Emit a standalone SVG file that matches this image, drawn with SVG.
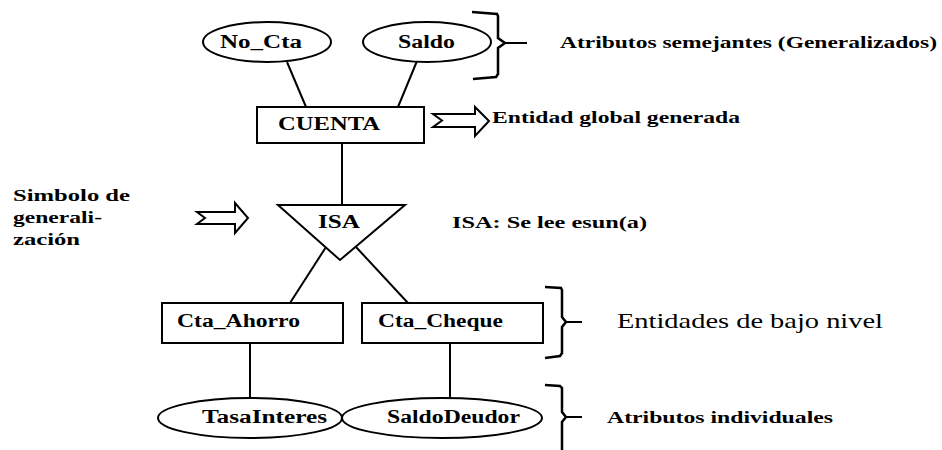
<svg xmlns="http://www.w3.org/2000/svg" width="942" height="450" viewBox="0 0 942 450">
<style>
  .bg{fill:#fff}
  .shape{fill:#fff;stroke:#000;stroke-width:2}
  .line{stroke:#000;stroke-width:2;fill:none}
  .brace{stroke:#000;stroke-width:2.5;fill:none;stroke-linejoin:miter}
  .arrow{fill:#fff;stroke:#000;stroke-width:2;stroke-linejoin:miter}
  text{font-family:"Liberation Serif","DejaVu Serif",serif;font-weight:bold;fill:#000}
  .n{font-size:18px}
  .lbl{font-size:16px}
  .big{font-size:21px;font-weight:normal}
</style>
<rect class="bg" x="0" y="0" width="942" height="450"/>
<g id="connectors">
  <line class="line" x1="287" y1="62" x2="306" y2="107"/>
  <line class="line" x1="417" y1="61" x2="398" y2="107"/>
  <line class="line" x1="342" y1="143" x2="342" y2="205"/>
  <line class="line" x1="326" y1="247" x2="290" y2="303"/>
  <line class="line" x1="356" y1="247" x2="408" y2="303"/>
  <line class="line" x1="250" y1="343" x2="250" y2="398"/>
  <line class="line" x1="450" y1="343" x2="450" y2="398"/>
</g>
<g id="no_cta">
  <ellipse class="shape" cx="267" cy="42" rx="64" ry="20"/>
  <text class="n" x="220" y="48" textLength="82" lengthAdjust="spacingAndGlyphs">No_Cta</text>
</g>
<g id="saldo">
  <ellipse class="shape" cx="427" cy="42" rx="64" ry="20"/>
  <text class="n" x="398" y="48" textLength="57" lengthAdjust="spacingAndGlyphs">Saldo</text>
</g>
<g id="cuenta">
  <rect class="shape" x="257" y="107" width="167" height="36"/>
  <text class="n" x="278" y="130" textLength="102" lengthAdjust="spacingAndGlyphs">CUENTA</text>
</g>
<g id="isa">
  <polygon class="shape" points="278,205 405,205 340,260"/>
  <text class="n" x="318" y="228" textLength="42" lengthAdjust="spacingAndGlyphs">ISA</text>
</g>
<g id="cta_ahorro">
  <rect class="shape" x="162" y="303" width="181" height="40"/>
  <text class="n" x="177" y="327" textLength="123" lengthAdjust="spacingAndGlyphs">Cta_Ahorro</text>
</g>
<g id="cta_cheque">
  <rect class="shape" x="362" y="303" width="181" height="40"/>
  <text class="n" x="378" y="327" textLength="125" lengthAdjust="spacingAndGlyphs">Cta_Cheque</text>
</g>
<g id="tasainteres">
  <ellipse class="shape" cx="250" cy="418" rx="92" ry="20"/>
  <text class="n" x="202" y="423" textLength="125" lengthAdjust="spacingAndGlyphs">TasaInteres</text>
</g>
<g id="saldodeudor">
  <ellipse class="shape" cx="442" cy="418" rx="100" ry="20"/>
  <text class="n" x="387" y="423" textLength="133" lengthAdjust="spacingAndGlyphs">SaldoDeudor</text>
</g>
<g id="annotations">
  <path class="brace" d="M472,12 L497,14 L498,16 L498,38 L505,43 L498,48 L498,74 L496,77 L473,79"/>
  <line class="line" x1="505" y1="43" x2="527" y2="43"/>
  <text class="lbl" x="560" y="48" textLength="377" lengthAdjust="spacingAndGlyphs">Atributos semejantes (Generalizados)</text>

  <path class="arrow" d="M433,114 L475,114 L475,107 L489,121 L475,136 L475,127 L433,127 L442,120.5 Z"/>
  <text class="lbl" x="492" y="123" textLength="248" lengthAdjust="spacingAndGlyphs">Entidad global generada</text>

  <text class="lbl" x="13" y="201" textLength="117" lengthAdjust="spacingAndGlyphs">Simbolo de</text>
  <text class="lbl" x="13" y="223" textLength="89" lengthAdjust="spacingAndGlyphs">generali-</text>
  <text class="lbl" x="13" y="245" textLength="67" lengthAdjust="spacingAndGlyphs">zación</text>
  <path class="arrow" d="M197,212 L235,212 L235,203 L248,218 L235,233 L235,224 L197,224 L205,218 Z"/>

  <text class="lbl" x="452" y="228" textLength="195" lengthAdjust="spacingAndGlyphs">ISA: Se lee esun(a)</text>

  <path class="brace" d="M545,287 L561,288 L562,290 L562,317 L566,322 L562,327 L562,353 L560,356 L545,358"/>
  <line class="line" x1="566" y1="322" x2="582" y2="322"/>
  <text class="big" x="617" y="328" textLength="266" lengthAdjust="spacingAndGlyphs">Entidades de bajo nivel</text>

  <path class="brace" d="M545,385 L560,386 L562,388 L562,412 L566,417 L562,422 L562,452"/>
  <line class="line" x1="566" y1="417" x2="582" y2="417"/>
  <text class="lbl" x="607" y="423" textLength="226" lengthAdjust="spacingAndGlyphs">Atributos individuales</text>
</g>
</svg>
